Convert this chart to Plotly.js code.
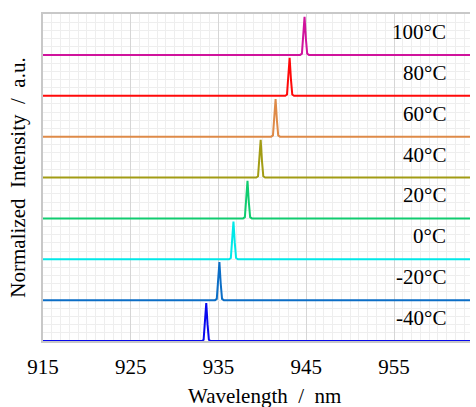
<!DOCTYPE html>
<html>
<head>
<meta charset="utf-8">
<script src="https://cdn.plot.ly/plotly-3.0.1.min.js"></script>
<style>html,body{margin:0;padding:0;background:#fff;}#chart{width:476px;height:407px;}</style>
</head>
<body>
<div id="chart"></div>
<script>
// Temperature labels (bottom to top)
const labels = ["-40°C", "-20°C", "0°C", "20°C", "40°C", "60°C", "80°C", "100°C"];
// Vertical offsets of each spectrum (normalized units)
const offsets = [0, 1, 2, 3, 4, 5, 6, 7];
const colors = ["#0808EE", "#0C6EC6", "#00E8E8", "#10CC70", "#A29C14", "#DE8A48", "#FF0A0A", "#D0139C"];

// Spectra: wavelength (nm) and normalized intensity
const wl_m40  = [915, 933.10, 933.30, 933.45, 933.60, 933.75, 933.90, 934.10, 963.65];
const int_m40 = [0, 0, 0.03, 0.40, 0.93, 0.40, 0.03, 0, 0];
const wl_m20  = [915, 934.60, 934.80, 934.95, 935.10, 935.25, 935.40, 935.60, 963.65];
const int_m20 = [0, 0, 0.03, 0.40, 0.93, 0.40, 0.03, 0, 0];
const wl_0    = [915, 936.20, 936.40, 936.55, 936.70, 936.85, 937.00, 937.20, 963.65];
const int_0   = [0, 0, 0.03, 0.40, 0.92, 0.40, 0.03, 0, 0];
const wl_20   = [915, 937.80, 938.00, 938.15, 938.30, 938.45, 938.60, 938.80, 963.65];
const int_20  = [0, 0, 0.03, 0.40, 0.92, 0.40, 0.03, 0, 0];
const wl_40   = [915, 939.30, 939.50, 939.65, 939.80, 939.95, 940.10, 940.30, 963.65];
const int_40  = [0, 0, 0.03, 0.40, 0.92, 0.40, 0.03, 0, 0];
const wl_60   = [915, 941.00, 941.20, 941.35, 941.50, 941.65, 941.80, 942.00, 963.65];
const int_60  = [0, 0, 0.03, 0.40, 0.92, 0.40, 0.03, 0, 0];
const wl_80   = [915, 942.60, 942.80, 942.95, 943.10, 943.25, 943.40, 943.60, 963.65];
const int_80  = [0, 0, 0.03, 0.40, 0.93, 0.40, 0.03, 0, 0];
const wl_100  = [915, 944.30, 944.50, 944.65, 944.80, 944.95, 945.10, 945.30, 963.65];
const int_100 = [0, 0, 0.03, 0.40, 0.93, 0.40, 0.03, 0, 0];

const xTicks = [915, 925, 935, 945, 955];

const wls = [wl_m40, wl_m20, wl_0, wl_20, wl_40, wl_60, wl_80, wl_100];
const ints = [int_m40, int_m20, int_0, int_20, int_40, int_60, int_80, int_100];

const traces = wls.map((w, i) => ({
  x: w,
  y: ints[i].map(v => v + offsets[i]),
  type: "scatter",
  mode: "lines",
  line: {color: colors[i], width: 2},
  hoverinfo: "skip",
  showlegend: false
}));

const font = "Liberation Serif, Times New Roman, serif";

const annotations = labels.map((t, i) => ({
  x: 961.15, y: offsets[i] + 0.56,
  xref: "x", yref: "y",
  text: t, showarrow: false,
  xanchor: "right", yanchor: "middle",
  font: {family: font, size: 21, color: "#000"}
}));
annotations.push({
  x: 0.5176, y: -0.168, xref: "paper", yref: "paper",
  text: "Wavelength\u00a0 /\u00a0 nm", showarrow: false,
  xanchor: "center", yanchor: "middle",
  font: {family: font, size: 21, color: "#000"}
});

const layout = {
  width: 476, height: 407,
  margin: {l: 43, r: 6, t: 14, b: 66},
  paper_bgcolor: "#fff", plot_bgcolor: "#fff",
  font: {family: font, size: 21, color: "#000"},
  xaxis: {
    range: [915, 963.65],
    tickvals: xTicks,
    ticktext: xTicks.map(String),
    ticks: "",
    ticklabelstandoff: 6,
    showgrid: true, gridcolor: "#d6d6d6", gridwidth: 1,
    minor: {dtick: 1, tick0: 915, showgrid: true, gridcolor: "#eeeeee", gridwidth: 1},
    showline: true, linecolor: "#c8c8c8", linewidth: 2, mirror: true,
    zeroline: false,
    tickfont: {family: font, size: 21, color: "#000"}
  },
  yaxis: {
    range: [0, 8],
    showticklabels: false,
    ticks: "",
    dtick: 1, tick0: 0,
    showgrid: true, gridcolor: "#eeeeee", gridwidth: 1,
    minor: {dtick: 0.2, tick0: 0, showgrid: true, gridcolor: "#eeeeee", gridwidth: 1},
    showline: true, linecolor: "#c8c8c8", linewidth: 2, mirror: false,
    zeroline: false,
    title: {text: "Normalized\u00a0 Intensity\u00a0 /\u00a0 a.u.", font: {family: font, size: 21, color: "#000"}, standoff: 10}
  },
  annotations: annotations
};

Plotly.newPlot("chart", traces, layout, {displayModeBar: false, staticPlot: true});
</script>
</body>
</html>
